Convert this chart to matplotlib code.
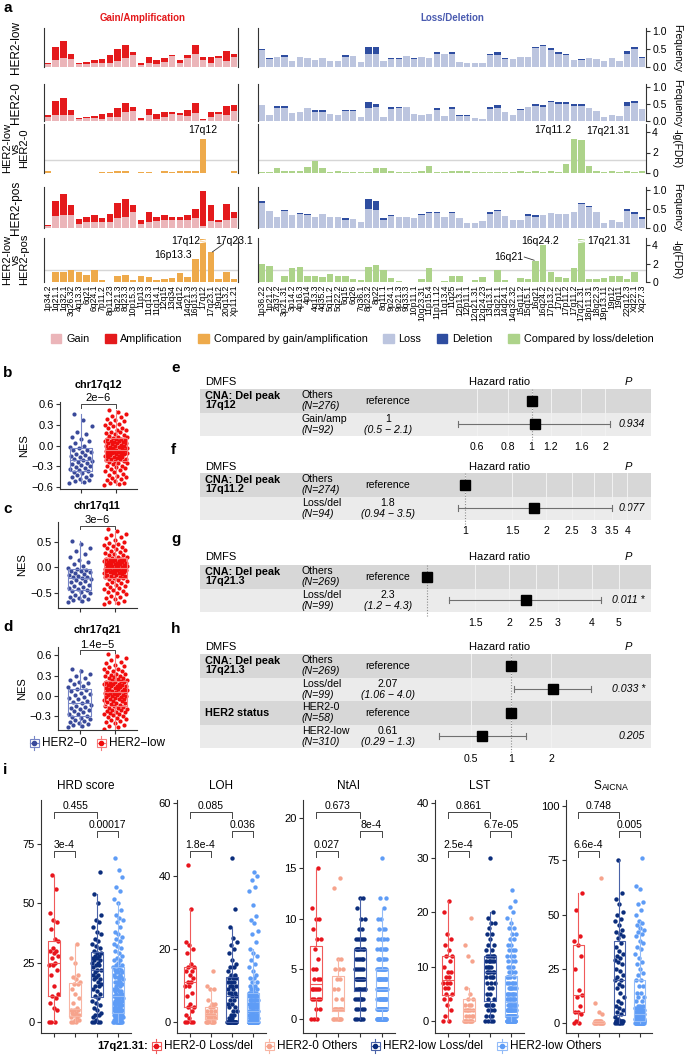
import numpy as np
import matplotlib
matplotlib.use('Agg')
import matplotlib.pyplot as plt
import matplotlib.transforms as mtransforms
from matplotlib.patches import Patch, Rectangle
from matplotlib.lines import Line2D

plt.rcParams['font.family'] = ['Liberation Sans', 'DejaVu Sans']
plt.rcParams['axes.unicode_minus'] = True

W, H = 685, 1059
fig = plt.figure(figsize=(W / 100, H / 100), dpi=100)


def box(x0, y0, x1, y1):
    return [x0 / W, 1 - y1 / H, (x1 - x0) / W, (y1 - y0) / H]


def ftext(x, y, s, **kw):
    return fig.text(x / W, 1 - y / H, s, **kw)


def vals(s):
    out = []
    for tok in s.split():
        if '*' in tok:
            v, n = tok.split('*')
            out += [float(v)] * int(n)
        else:
            out.append(float(tok))
    return np.array(out)


# ---------------- data: panel a ----------------
gain_labels = ['1p34.2', '1q21.1', '1q32.1', '3q26.32', '4q13.3', '6q21', '6q24.1', '7p11.2',
               '8p11.23', '8q21.3', '8q23.3', '10p15.3', '11p13', '11q13.3', '11q14.1', '12q15',
               '13q34', '14q12', '14q21.3', '16p13.3', '17q12', '17q23.1', '19q12', '20q13.2', 'Xp11.21']
loss_labels = ['1p36.22', '1p21.2', '2q37.2', '3p21.31', '3p14.2', '4p16.3', '4p14', '4q13.3', '4q35.2',
               '5q11.2', '5q22.2', '6q15', '6q26', '7q36.1', '8p23.2', '8p22', '8q11.1', '9p24.1',
               '9p21.3', '9q33.3', '10p11.1', '10q23.31', '11p15.4', '11p11.12', '11q13.4', '11q25',
               '12p13.1', '12p11.1', '12q21.31', '12q24.23', '13q13.1', '13q21.1', '14q24.1', '14q32.32',
               '15q11.2', '15q15.1', '16q21', '16q24.2', '17p13.2', '17p12', '17p11.2', '17q11.2',
               '17q21.31', '18p11.31', '18q22.3', '19p13.11', '19p12', '19q11', '22q12.3', 'Xq22.1', 'Xq27.3']

low_gain = [0.09, 0.19, 0.24, 0.22, 0.08, 0.08, 0.12, 0.12, 0.12, 0.16, 0.25, 0.33, 0.05, 0.12, 0.08,
            0.15, 0.30, 0.12, 0.25, 0.35, 0.19, 0.12, 0.25, 0.17, 0.27]
low_amp = [0.03, 0.37, 0.49, 0.14, 0.03, 0.07, 0.07, 0.11, 0.20, 0.34, 0.35, 0.09, 0.06, 0.17, 0.12,
           0.09, 0.03, 0.07, 0.08, 0.27, 0.09, 0.17, 0.05, 0.28, 0.08]
zero_gain = [0.13, 0.18, 0.18, 0.18, 0.05, 0.08, 0.09, 0.06, 0.13, 0.13, 0.27, 0.28, 0.02, 0.17, 0.07,
             0.12, 0.21, 0.18, 0.15, 0.25, 0.02, 0.12, 0.22, 0.19, 0.28]
zero_amp = [0.06, 0.40, 0.50, 0.15, 0.03, 0.04, 0.05, 0.15, 0.12, 0.25, 0.27, 0.12, 0.07, 0.19, 0.14,
            0.15, 0.05, 0.05, 0.16, 0.27, 0.03, 0.15, 0.05, 0.25, 0.18]
pos_gain = [0.05, 0.32, 0.33, 0.33, 0.10, 0.15, 0.15, 0.16, 0.17, 0.27, 0.30, 0.42, 0.10, 0.15, 0.18,
            0.22, 0.22, 0.20, 0.20, 0.27, 0.04, 0.18, 0.17, 0.22, 0.27]
pos_amp = [0.04, 0.40, 0.57, 0.27, 0.15, 0.15, 0.18, 0.09, 0.21, 0.38, 0.46, 0.18, 0.10, 0.28, 0.12,
           0.11, 0.08, 0.10, 0.13, 0.23, 0.93, 0.42, 0.05, 0.40, 0.15]

low_loss = [0.48, 0.23, 0.28, 0.29, 0.17, 0.29, 0.24, 0.20, 0.24, 0.17, 0.17, 0.29, 0.30, 0.14, 0.35,
            0.35, 0.18, 0.22, 0.22, 0.30, 0.22, 0.28, 0.25, 0.37, 0.36, 0.36, 0.13, 0.12, 0.12, 0.12,
            0.33, 0.34, 0.22, 0.22, 0.28, 0.29, 0.54, 0.58, 0.47, 0.37, 0.34, 0.20, 0.20, 0.24, 0.21,
            0.18, 0.24, 0.18, 0.36, 0.51, 0.26]
low_del = [0.02, 0.02, 0.00, 0.04, 0.00, 0.00, 0.00, 0.00, 0.00, 0.00, 0.00, 0.04, 0.00, 0.00, 0.20,
           0.20, 0.00, 0.02, 0.02, 0.00, 0.03, 0.00, 0.00, 0.05, 0.00, 0.06, 0.02, 0.00, 0.00, 0.00,
           0.03, 0.08, 0.02, 0.00, 0.00, 0.00, 0.02, 0.02, 0.05, 0.05, 0.02, 0.00, 0.02, 0.00, 0.00,
           0.00, 0.00, 0.00, 0.09, 0.04, 0.02]
zero_loss = [0.47, 0.18, 0.38, 0.37, 0.24, 0.26, 0.38, 0.27, 0.26, 0.20, 0.17, 0.28, 0.28, 0.13, 0.37,
             0.40, 0.12, 0.36, 0.38, 0.40, 0.20, 0.19, 0.20, 0.31, 0.15, 0.34, 0.14, 0.15, 0.08, 0.05,
             0.35, 0.38, 0.26, 0.17, 0.31, 0.40, 0.44, 0.42, 0.55, 0.50, 0.49, 0.44, 0.45, 0.38, 0.28,
             0.13, 0.17, 0.15, 0.45, 0.54, 0.35]
zero_del = [0.00, 0.00, 0.05, 0.06, 0.00, 0.00, 0.00, 0.04, 0.06, 0.00, 0.00, 0.03, 0.03, 0.00, 0.18,
            0.10, 0.00, 0.04, 0.02, 0.00, 0.00, 0.00, 0.00, 0.06, 0.00, 0.08, 0.03, 0.02, 0.00, 0.00,
            0.07, 0.10, 0.00, 0.00, 0.03, 0.00, 0.06, 0.06, 0.05, 0.07, 0.06, 0.06, 0.05, 0.00, 0.00,
            0.00, 0.00, 0.00, 0.12, 0.06, 0.00]
pos_loss = [0.67, 0.45, 0.30, 0.44, 0.33, 0.36, 0.33, 0.30, 0.36, 0.28, 0.28, 0.21, 0.24, 0.17, 0.50,
            0.48, 0.22, 0.31, 0.30, 0.29, 0.26, 0.33, 0.40, 0.39, 0.30, 0.40, 0.27, 0.14, 0.14, 0.18,
            0.38, 0.46, 0.31, 0.20, 0.20, 0.31, 0.29, 0.33, 0.40, 0.38, 0.36, 0.42, 0.62, 0.56, 0.42,
            0.13, 0.20, 0.17, 0.45, 0.38, 0.25]
pos_del = [0.05, 0.00, 0.00, 0.03, 0.00, 0.04, 0.03, 0.00, 0.00, 0.00, 0.00, 0.04, 0.00, 0.00, 0.25,
           0.22, 0.05, 0.03, 0.00, 0.00, 0.00, 0.04, 0.02, 0.04, 0.00, 0.02, 0.00, 0.00, 0.00, 0.00,
           0.04, 0.02, 0.00, 0.00, 0.00, 0.05, 0.04, 0.00, 0.00, 0.00, 0.00, 0.00, 0.05, 0.02, 0.00,
           0.00, 0.00, 0.00, 0.04, 0.04, 0.03]

fdr_lz_gain = [0.15, 0.02, 0.02, 0.02, 0.02, 0.02, 0.02, 0.10, 0.10, 0.15, 0.15, 0.02, 0.10, 0.10, 0.02,
               0.15, 0.12, 0.15, 0.18, 0.18, 3.30, 0.02, 0.02, 0.02, 0.20]
fdr_lz_loss = [0.05, 0.10, 0.45, 0.15, 0.15, 0.20, 0.55, 1.20, 0.50, 0.05, 0.15, 0.05, 0.05, 0.05, 0.05,
               0.50, 0.50, 0.20, 0.05, 0.10, 0.05, 0.20, 0.70, 0.05, 0.05, 0.15, 0.15, 0.15, 0.05, 0.05,
               0.05, 0.05, 0.05, 0.05, 0.20, 0.05, 0.20, 0.10, 0.15, 0.10, 0.90, 3.30, 3.20, 0.70, 0.20,
               0.05, 0.15, 0.05, 0.15, 0.05, 0.15]
fdr_lp_gain = [0.02, 1.10, 1.10, 1.35, 1.10, 0.80, 1.35, 0.25, 0.02, 0.70, 0.75, 0.20, 0.70, 0.55, 0.25,
               0.35, 0.45, 1.00, 0.55, 2.50, 4.60, 3.20, 0.35, 1.05, 0.35]
fdr_lp_loss = [2.00, 1.70, 0.02, 0.70, 1.50, 1.60, 0.70, 0.70, 0.55, 0.85, 0.70, 0.70, 0.35, 0.20, 1.60,
               1.80, 1.35, 0.45, 0.10, 0.02, 0.02, 0.35, 1.55, 0.02, 0.10, 0.70, 0.70, 0.02, 0.20, 0.50,
               0.02, 1.35, 0.25, 0.02, 0.45, 0.35, 2.30, 4.00, 1.10, 0.50, 0.40, 1.50, 4.60, 0.35, 0.35,
               0.40, 0.70, 0.60, 0.35, 1.10, 0.05]

C_GAIN, C_AMP, C_CMPG = '#EBB5B9', '#E41A1C', '#EEAA4B'
C_LOSS, C_DEL, C_CMPL = '#BCC5DF', '#2E4DA0', '#ADD38A'
SP = '#333333'

ftext(3, 8, 'a', fontsize=11, fontweight='bold', va='center')
ftext(143, 18, 'Gain/Amplification', color=C_AMP, fontsize=7, fontweight='bold', ha='center', va='center')
ftext(452, 18, 'Loss/Deletion', color='#4A5BB0', fontsize=7, fontweight='bold', ha='center', va='center')

row_specs = [('HER2-low', 'freq', 31, 67), ('HER2-0', 'freq', 87, 121),
             ('HER2-low\nvs\nHER2-0', 'fdr', 132, 173), ('HER2-pos', 'freq', 190, 228),
             ('HER2-low\nvs\nHER2-pos', 'fdr', 245, 282)]
freq_sets = {0: (low_gain, low_amp, low_loss, low_del), 1: (zero_gain, zero_amp, zero_loss, zero_del),
             3: (pos_gain, pos_amp, pos_loss, pos_del)}
fdr_sets = {2: (fdr_lz_gain, fdr_lz_loss), 4: (fdr_lp_gain, fdr_lp_loss)}

xg = np.arange(len(gain_labels))
xl = np.arange(len(loss_labels))
bw = 0.84
ax_rows = []
for r, (lab, kind, ytick, yzero) in enumerate(row_specs):
    unit, ymax = (1.0, 1.08) if kind == 'freq' else (4.0, 4.8)
    top = yzero - (yzero - ytick) * ymax / unit
    axg = fig.add_axes(box(44, top, 238, yzero))
    axl = fig.add_axes(box(258, top, 646, yzero))
    for ax, n in ((axg, len(gain_labels)), (axl, len(loss_labels))):
        ax.set_xlim(-0.5, n - 0.5)
        ax.set_ylim(0, ymax)
        for s in ax.spines.values():
            s.set_color(SP)
            s.set_linewidth(0.8)
        ax.spines['top'].set_visible(False)
        ax.spines['bottom'].set_visible(False)
        ax.set_xticks([])
    axg.set_yticks([])
    axl.yaxis.tick_right()
    if kind == 'freq':
        g, a, lo, de = freq_sets[r]
        axg.bar(xg, g, bw, color=C_GAIN, lw=0)
        axg.bar(xg, a, bw, bottom=g, color=C_AMP, lw=0)
        axl.bar(xl, lo, bw, color=C_LOSS, lw=0)
        axl.bar(xl, de, bw, bottom=lo, color=C_DEL, lw=0)
        axl.set_yticks([0, 0.5, 1.0], ['0.0', '0.5', '1.0'])
        rlab = 'Frequency'
    else:
        fg, fl = fdr_sets[r]
        for ax, xs, v, c in ((axg, xg, fg, C_CMPG), (axl, xl, fl, C_CMPL)):
            ax.axhline(1.3, color='#D6D6D6', lw=1, zorder=0)
            ax.bar(xs, v, bw, color=c, lw=0)
            for xi, vi in zip(xs, v):
                if vi > 4.4:
                    for yb in (4.25, 4.42):
                        ax.plot([xi - 0.45, xi + 0.45], [yb, yb + 0.12], color='white', lw=0.9)
        axl.set_yticks([0, 2, 4], ['0', '2', '4'])
        rlab = '-lg(FDR)'
    axl.spines['right'].set_visible(True)
    axl.tick_params(axis='y', length=3, width=0.8, color=SP, labelsize=7.5, pad=1.5)
    ym = (top + yzero) / 2
    if '\n' in lab:
        ftext(16, ym, lab, rotation=90, ha='center', va='center', fontsize=8, linespacing=0.8,
              multialignment='center')
    else:
        ftext(16, ym, lab, rotation=90, ha='center', va='center', fontsize=8.5)
    ftext(677, ym, rlab, rotation=270, ha='center', va='center', fontsize=7.3)
    ax_rows.append((axg, axl))

# x labels under the last row
axg5, axl5 = ax_rows[4]
axg5.set_xticks(xg, gain_labels, rotation=90, fontsize=6.2)
axl5.set_xticks(xl, loss_labels, rotation=90, fontsize=6.2)
for ax in (axg5, axl5):
    ax.tick_params(axis='x', length=0, pad=2)

# peak annotations
axg3, axl3 = ax_rows[2]
axg3.text(20, fdr_lz_gain[20] + 0.4, '17q12', ha='center', va='bottom', fontsize=7.5)
axl3.text(40.7, fdr_lz_loss[41] + 0.4, '17q11.2', ha='right', va='bottom', fontsize=7.5)
axl3.text(42.6, fdr_lz_loss[42] + 0.4, '17q21.31', ha='left', va='bottom', fontsize=7.5)
axg5.text(19.6, 4.45, '17q12', ha='right', va='center', fontsize=7.5)
axg5.text(21.6, 4.45, '17q23.1', ha='left', va='center', fontsize=7.5)
axg5.plot([22.6, 21.2], [4.1, fdr_lp_gain[21] + 0.05], color='#333', lw=0.6)
axg5.text(18.5, 2.9, '16p13.3', ha='right', va='center', fontsize=7.5)
axl5.text(36.6, 4.45, '16q24.2', ha='center', va='center', fontsize=7.5)
axl5.text(34.4, 2.75, '16q21', ha='right', va='center', fontsize=7.5)
axl5.plot([34.5, 35.8], [2.7, fdr_lp_loss[36] + 0.05], color='#333', lw=0.6)
axl5.text(42.8, 4.45, '17q21.31', ha='left', va='center', fontsize=7.5)

leg_labels = ['Gain', 'Amplification', 'Compared by gain/amplification', 'Loss', 'Deletion',
              'Compared by loss/deletion']
leg_cols = [C_GAIN, C_AMP, C_CMPG, C_LOSS, C_DEL, C_CMPL]
fig.legend([Patch(color=c) for c in leg_cols], leg_labels, loc='center',
           bbox_to_anchor=(352 / W, 1 - 339 / H), ncol=6, frameon=False, fontsize=7.8,
           handlelength=1.0, handleheight=1.0, handletextpad=0.45, columnspacing=1.4, borderaxespad=0)

# ---------------- data: panels b-d ----------------
b_zero = vals('-0.55 -0.53 -0.52 -0.5 -0.48 -0.46 -0.45 -0.43 -0.42 -0.4 -0.39 '
              '-0.37 -0.36 -0.34 -0.33 -0.31 -0.3 -0.28 -0.27 -0.25 -0.24 -0.23 '
              '-0.21 -0.2 -0.18 -0.17 -0.15 -0.14 -0.12 -0.1 -0.09 -0.07 -0.06 '
              '-0.04 -0.02 0.0 0.03 0.06 0.09 0.12 0.16 0.2 0.28 0.37 0.45')
b_low = vals('-0.57 -0.56 -0.55 -0.54 -0.52 -0.5 -0.49 -0.47 -0.46 -0.44 -0.42 -0.41 -0.39 -0.37 -0.36 '
             '-0.34 -0.33 -0.31 -0.3 -0.29 -0.27 -0.26 -0.25 -0.24 -0.23 '
             '-0.22 -0.21 -0.2 -0.2 -0.19 -0.18 -0.17 -0.17 -0.16 -0.15 -0.15 -0.14 -0.13 -0.13 -0.12 '
             '-0.12 -0.11 -0.11 -0.1 -0.1 -0.09 -0.09 -0.08 -0.08 -0.07 '
             '-0.06 -0.06 -0.05 -0.04 -0.04 -0.03 -0.02 -0.02 -0.01 0.0 0.0 0.01 0.02 0.03 0.03 '
             '0.04 0.05 0.05 0.06 0.07 0.07 0.08 0.09 0.09 0.1 '
             '0.11 0.12 0.13 0.14 0.15 0.17 0.18 0.19 0.2 0.22 0.23 0.25 0.26 0.28 0.3 '
             '0.31 0.33 0.35 0.37 0.39 0.41 0.43 0.45 0.48 0.52')
c_zero = vals('-0.68 -0.66 -0.63 -0.61 -0.59 -0.57 -0.55 -0.53 -0.5 -0.48 -0.46 '
              '-0.44 -0.42 -0.4 -0.38 -0.36 -0.34 -0.31 -0.29 -0.27 -0.25 -0.23 '
              '-0.21 -0.19 -0.18 -0.16 -0.14 -0.13 -0.11 -0.1 -0.08 -0.07 -0.06 '
              '-0.04 -0.01 0.02 0.06 0.1 0.14 0.2 0.25 0.32 0.38 0.45 0.52')
c_low = vals('-0.72 -0.7 -0.67 -0.65 -0.62 -0.6 -0.57 -0.55 -0.52 -0.5 -0.48 -0.46 -0.44 -0.42 -0.4 '
             '-0.38 -0.36 -0.34 -0.32 -0.3 -0.28 -0.26 -0.24 -0.22 -0.21 '
             '-0.2 -0.19 -0.18 -0.17 -0.16 -0.15 -0.14 -0.13 -0.12 -0.12 -0.11 -0.1 -0.09 -0.09 -0.08 '
             '-0.07 -0.07 -0.06 -0.05 -0.05 -0.04 -0.04 -0.03 -0.03 -0.02 '
             '-0.01 0.0 0.0 0.01 0.02 0.03 0.03 0.04 0.05 0.06 0.06 0.07 0.08 0.09 0.09 '
             '0.1 0.11 0.12 0.12 0.13 0.14 0.15 0.15 0.16 0.17 '
             '0.18 0.2 0.21 0.23 0.24 0.26 0.28 0.3 0.32 0.34 0.36 0.38 0.4 0.42 0.44 '
             '0.46 0.48 0.5 0.53 0.56 0.59 0.62 0.65 0.7 0.75')
d_zero = vals('-0.45 -0.44 -0.42 -0.41 -0.4 -0.38 -0.37 -0.35 -0.34 -0.33 -0.31 '
              '-0.29 -0.27 -0.26 -0.24 -0.22 -0.21 -0.19 -0.17 -0.16 -0.14 -0.13 '
              '-0.11 -0.09 -0.07 -0.05 -0.03 -0.01 0.01 0.03 0.05 0.07 0.09 '
              '0.11 0.13 0.15 0.17 0.19 0.21 0.24 0.27 0.3 0.33 0.36 0.4')
d_low = vals('-0.48 -0.46 -0.44 -0.42 -0.4 -0.38 -0.37 -0.35 -0.34 -0.32 -0.31 -0.3 -0.28 -0.27 -0.26 '
             '-0.25 -0.24 -0.23 -0.22 -0.21 -0.2 -0.19 -0.18 -0.17 -0.16 '
             '-0.15 -0.14 -0.13 -0.12 -0.11 -0.1 -0.09 -0.08 -0.07 -0.06 -0.05 -0.04 -0.04 -0.03 -0.02 '
             '-0.01 0.0 0.0 0.01 0.02 0.02 0.03 0.04 0.04 0.05 '
             '0.06 0.06 0.07 0.08 0.08 0.09 0.1 0.1 0.11 0.12 0.12 0.13 0.14 0.14 0.15 '
             '0.16 0.16 0.17 0.18 0.18 0.19 0.2 0.2 0.21 0.22 '
             '0.23 0.24 0.25 0.26 0.27 0.28 0.29 0.3 0.31 0.32 0.33 0.35 0.36 0.37 0.39 '
             '0.4 0.42 0.44 0.46 0.48 0.5 0.53 0.56 0.59 0.62')

nes_titles = ['chr17q12', 'chr17q11', 'chr17q21']
nes_p = ['2e\u22126', '3e\u22126', '1.4e\u22125']
nes_ticks = [[-0.6, -0.3, 0.0, 0.3, 0.6], [-0.5, 0.0, 0.5], [-0.3, 0.0, 0.3, 0.6]]
C_H0, E_H0 = '#3A4A9A', '#7785C6'
C_HL, E_HL = '#F00D0D', '#F57C7C'


def jit(n, w):
    return ((np.arange(n) * 0.6180339887) % 1 - 0.5) * 2 * w


def draw_groups(ax, groups, cols, edges, width, jw, s):
    for i, (v, c, e) in enumerate(zip(groups, cols, edges)):
        pos = i + 1
        ax.scatter(pos + jit(len(v), jw), v, s=s, color=c, lw=0, zorder=2)
        bp = ax.boxplot(v, positions=[pos], widths=width, showfliers=False, showcaps=False,
                        manage_ticks=False)
        for k in ('boxes', 'medians', 'whiskers'):
            for art in bp[k]:
                art.set_color(e)
                art.set_linewidth(0.8)
                art.set_zorder(3)


def bracket(ax, x1, x2, y, h, txt, trans, fs=7.5):
    ax.plot([x1, x1, x2, x2], [y - h, y, y, y - h], color='#444', lw=0.7, transform=trans, clip_on=False)
    ax.text((x1 + x2) / 2, y + h * 0.25, txt, ha='center', va='bottom', fontsize=fs, transform=trans)


def style_ax(ax, fs=7.5):
    for s in ('top', 'right'):
        ax.spines[s].set_visible(False)
    for s in ('left', 'bottom'):
        ax.spines[s].set_color(SP)
        ax.spines[s].set_linewidth(0.8)
    ax.tick_params(length=3, width=0.8, color=SP, labelsize=fs, pad=1.5)


nes_sets = [(b_zero, b_low), (c_zero, c_low), (d_zero, d_low)]
nes_box = [(60, 402, 137, 489), (58, 522, 137, 608), (58, 647, 137, 730)]
nes_ylim = [(-0.63, 0.63), (-0.79, 0.88), (-0.5, 0.72)]
nes_brk = [0.6, 0.81, 0.67]
nes_title_y = [385, 506, 630]
nes_letter_y = [373, 509, 627]
for k, letter in enumerate('bcd'):
    ax = fig.add_axes(box(*nes_box[k]))
    draw_groups(ax, nes_sets[k], [C_H0, C_HL], [E_H0, E_HL], 0.65, 0.33, 9)
    ax.set_xlim(0.4, 2.6)
    ax.set_ylim(*nes_ylim[k])
    ax.set_xticks([1, 2], ['', ''])
    ax.set_yticks(nes_ticks[k], [f'{t:.1f}'.replace('-', '\u2212') for t in nes_ticks[k]])
    style_ax(ax, 8)
    ax.set_ylabel('NES', fontsize=8, labelpad=2)
    h = (nes_ylim[k][1] - nes_ylim[k][0]) * 0.04
    bracket(ax, 1, 2, nes_brk[k], h, nes_p[k], ax.transData, fs=8)
    xc = (nes_box[k][0] + nes_box[k][2]) / 2
    ftext(xc, nes_title_y[k], nes_titles[k], ha='center', va='center', fontsize=7.8, fontweight='bold')
    ftext(3, nes_letter_y[k], letter, fontsize=11, fontweight='bold', va='center')


def legend_key(xc, yc, color, edge):
    tf = fig.transFigure
    fig.add_artist(Rectangle(((xc - 4.5) / W, 1 - (yc + 4) / H), 9 / W, 8 / H, transform=tf,
                             fill=False, ec=edge, lw=0.8))
    fig.add_artist(Line2D([(xc - 4.5) / W, (xc + 4.5) / W], [1 - yc / H] * 2, color=edge, lw=0.8, transform=tf))
    fig.add_artist(Line2D([xc / W] * 2, [1 - (yc - 7) / H, 1 - (yc - 4) / H], color=edge, lw=0.8, transform=tf))
    fig.add_artist(Line2D([xc / W] * 2, [1 - (yc + 4) / H, 1 - (yc + 7) / H], color=edge, lw=0.8, transform=tf))
    fig.add_artist(Line2D([xc / W], [1 - yc / H], marker='o', ms=3, color=color, lw=0, transform=tf))


legend_key(34, 743, C_H0, E_H0)
ftext(42, 743, 'HER2\u22120', fontsize=8.5, va='center')
legend_key(101, 743, C_HL, E_HL)
ftext(109, 743, 'HER2\u2212low', fontsize=8.5, va='center')

# ---------------- data: panels e-h (forest plots) ----------------
e_group = ['Others', 'Gain/amp']
e_n = ['(N=276)', '(N=92)']
e_hr = [1.0, 1.03]
e_lo = [np.nan, 0.5]
e_hi = [np.nan, 2.1]
e_hr_txt = ['reference', '1']
e_ci_txt = ['', '(0.5 \u2212 2.1)']
e_p = ['', '0.934']
e_ticks = [0.6, 0.8, 1, 1.2, 1.6, 2]

f_group = ['Others', 'Loss/del']
f_n = ['(N=274)', '(N=94)']
f_hr = [1.0, 1.8]
f_lo = [np.nan, 0.94]
f_hi = [np.nan, 3.5]
f_hr_txt = ['reference', '1.8']
f_ci_txt = ['', '(0.94 \u2212 3.5)']
f_p = ['', '0.077']
f_ticks = [1, 1.5, 2, 2.5, 3, 3.5, 4]

g_group = ['Others', 'Loss/del']
g_n = ['(N=269)', '(N=99)']
g_hr = [1.0, 2.3]
g_lo = [np.nan, 1.2]
g_hi = [np.nan, 4.3]
g_hr_txt = ['reference', '2.3']
g_ci_txt = ['', '(1.2 \u2212 4.3)']
g_p = ['', '0.011 *']
g_ticks = [1.5, 2, 2.5, 3, 4, 5]

h_group = ['Others', 'Loss/del', 'HER2-0', 'HER2-low']
h_n = ['(N=269)', '(N=99)', '(N=58)', '(N=310)']
h_hr = [1.0, 2.07, 1.0, 0.61]
h_lo = [np.nan, 1.06, np.nan, 0.29]
h_hi = [np.nan, 4.0, np.nan, 1.3]
h_hr_txt = ['reference', '2.07', 'reference', '0.61']
h_ci_txt = ['', '(1.06 \u2212 4.0)', '', '(0.29 \u2212 1.3)']
h_p = ['', '0.033 *', '', '0.205']
h_ticks = [0.5, 1, 2]

forests = [
    ('e', 368, 382, 389, {0: 'CNA: Del peak\n17q12'}, e_group, e_n, e_hr, e_lo, e_hi, e_hr_txt, e_ci_txt, e_p,
     e_ticks, 531.5, 106, 440, 630),
    ('f', 450, 467, 473, {0: 'CNA: Del peak\n17q11.2'}, f_group, f_n, f_hr, f_lo, f_hi, f_hr_txt, f_ci_txt, f_p,
     f_ticks, 465, 117, 440, 635),
    ('g', 539, 557, 565, {0: 'CNA: Del peak\n17q21.3'}, g_group, g_n, g_hr, g_lo, g_hi, g_hr_txt, g_ci_txt, g_p,
     g_ticks, 427, 119, 415, 630),
    ('h', 629, 647, 654, {0: 'CNA: Del peak\n17q21.3', 2: 'HER2 status'}, h_group, h_n, h_hr, h_lo, h_hi,
     h_hr_txt, h_ci_txt, h_p, h_ticks, 511, 58, 420, 610),
]
ROW_H = 23.5
TX0 = 200
FS = 7.6
for (letter, ly, hy, btop, var, grp, nn, hr, lo, hi, hrt, cit, pv, ticks,
     one_px, ppl, fx0, fx1) in forests:
    nrow = len(grp)
    bbot = btop + nrow * ROW_H
    ftext(171, ly, letter, fontsize=11, fontweight='bold', va='center')
    tab = fig.add_axes(box(TX0, btop, 651, bbot))
    tab.set_xlim(TX0, 651)
    tab.set_ylim(bbot, btop)
    tab.axis('off')
    for i in range(nrow):
        y0 = btop + i * ROW_H
        tab.add_patch(Rectangle((TX0, y0), 651 - TX0, ROW_H, color='#D7D7D7' if i % 2 == 0 else '#EBEBEB', lw=0))
        yc = y0 + ROW_H / 2
        tab.text(302, yc - 5.5, grp[i], fontsize=FS, va='center')
        tab.text(302, yc + 5.5, nn[i], fontsize=FS, va='center', style='italic')
        if cit[i]:
            tab.text(388, yc - 5.5, hrt[i], fontsize=FS, va='center', ha='center')
            tab.text(388, yc + 5.5, cit[i], fontsize=FS, va='center', ha='center', style='italic')
        else:
            tab.text(388, yc, hrt[i], fontsize=FS, va='center', ha='center')
        if pv[i]:
            tab.text(645, yc, pv[i], fontsize=FS, va='center', ha='right', style='italic')
        if i in var:
            tab.text(205, yc, var[i], fontsize=7.8, va='center', fontweight='bold', linespacing=0.9)
    tab.text(205, hy, 'DMFS', fontsize=8, va='center', clip_on=False)
    tab.text(500, hy, 'Hazard ratio', fontsize=8, va='center', ha='center', clip_on=False)
    tab.text(628, hy, 'P', fontsize=8, va='center', ha='center', style='italic', clip_on=False)

    fa = fig.add_axes(box(fx0, btop, fx1, bbot))
    fa.set_xscale('log')
    fa.set_xlim(np.exp((fx0 - one_px) / ppl), np.exp((fx1 - one_px) / ppl))
    fa.set_ylim(bbot, btop)
    fa.patch.set_visible(False)
    for s in fa.spines.values():
        s.set_visible(False)
    fa.set_yticks([])
    fa.minorticks_off()
    fa.set_xticks(ticks, [f'{t:g}' for t in ticks])
    fa.tick_params(axis='x', length=0, labelsize=FS, pad=4)
    for t in ticks:
        fa.plot([t, t], [btop, bbot], color='#F2F2F2', lw=0.7, zorder=1)
    fa.plot([1, 1], [btop, bbot + 4], color='#8C8C8C', lw=0.8, ls=(0, (1, 1.5)), zorder=2, clip_on=False)
    for i in range(nrow):
        yc = btop + (i + 0.5) * ROW_H
        if np.isfinite(lo[i]):
            fa.plot([lo[i], hi[i]], [yc, yc], color='#707070', lw=0.8, zorder=3)
            for xe in (lo[i], hi[i]):
                fa.plot([xe, xe], [yc - 3, yc + 3], color='#707070', lw=0.8, zorder=3)
        fa.plot([hr[i]], [yc], 's', color='black', ms=6.5, zorder=4, clip_on=False)

# ---------------- data: panel i ----------------
i_titles = ['HRD score', 'LOH', 'NtAI', 'LST', None]
hrd = [vals('0 0 0 5 6 8 10 11 12 15 20 22 24 24 25 27 28 29 30 30 31 34 35 39 42 43 46 56 62'),
       vals('0 0 0 1 1 2 2 3 3 4 4 5 5 5 6 8 10 12 14 16 16 17 18 19 20 25 27 33'),
       vals('0*4 1 2 3 3 4 5 6 7 8 9 10 11 12 13 14 15 15 16 17 18 18 19 20 20 21 22 '
            '22 23 24 24 25 25 26 26 27 27 28 28 29 29 30 31 32 33 34 35 37 38 40 42 43 45 50 54 63'),
       vals('0*10 1*6 2*6 3*8 4*4 5*4 6*4 7*4 8*4 9*4 10*4 11*2 '
            '11 12*3 13*3 14*2 15*2 16*2 17*3 18*2 19*3 20*2 21*3 22*3 23 '
            '23 24 24 25 26 26 27 28 29 30 31 32 33 34 35 36 37 38 40 42 43 44 45 47 50 52 55 57 61 64 69')]
loh = [vals('0 0 0 0 1 2 3 4 4 5 7 8 10 10 11 11 12 13 14 14 15 15 16 19 20 21 22 31 43'),
       vals('0*7 1*4 2*5 3*3 4*2 5 5 6 9 9 10 14'),
       vals('0*17 1 1 2 2 3 3 4 4 5 5 6 6 7 7 8 8 8 9 9 10 10 10 11 11 11 12 12 12 '
            '13 13 14 15 15 16 17 19 20 21 22 23 26 31 45'),
       vals('0*38 1*8 2*8 3*9 4*5 5*5 6*6 7*6 8*6 9*3 10*2 11*2 12*2 13 14 15 16 17 18 19 20 '
            '22 24 25 27 28 29 32 36 37 39 40 41')]
ntai = [vals('0 0 0 1 1 2 2 2 2 3 3 3 3 3 4 4 4 5 5 6 7 8 8 9 10 10 11 15'),
        vals('0*7 1*8 2 2 3 3 4 4 5 5 5 6 6 13 14'),
        vals('0*5 1*4 2*6 3*7 4*9 5*5 6*5 7*7 8*5 9 9 10 10 11 12 12'),
        vals('0*20 1*20 2*12 3*18 4*12 5*12 6*6 7*6 8*5 9*3 10*2 11 12 12 16')]
lst = [vals('0 0 1 2 3 4 4 5 5 6 6 7 7 7 8 8 9 9 10 11 12 12 13 14 15 16 20 22'),
       vals('0*8 1*4 2*5 3*3 4*2 5 6 11 12 14 19'),
       vals('0*4 1*3 2*3 3*5 4 4 5 5 6 6 7 7 7 8 8 8 8 9 9 9 9 9 10*4 11*5 12*5 '
            '13 13 14 14 15 16 16 17 18 18 19 20 30'),
       vals('0*18 1*18 2*12 3*12 4*8 5*7 6*6 7*5 8*4 9*4 10*3 11*3 12*3 13*3 14*2 15*2 16*2 17*2 '
            '18 19 20 21 22 24')]
saicna = [vals('0 0 1 4 5 5 8 12 13 15 25 31 36 38 40 52 60'),
          vals('0*9 1*7 4 5 9 67'),
          vals('0*5 1*7 2 3 4 5 6 7 8 9 10 12 14 16 17 18 20 20 21 22 24 25 27 28 29 30 31 32 33 35 37 39 '
               '40 41 42 43 45 47 48 50 51 55 57 60 75'),
          vals('0*20 1*14 2*10 3*8 4*6 5*5 6*4 7*3 8*3 10*2 12*2 14*2 17*2 20*2 '
               '22 23 25 27 28 30 32 34 35 37 38 40 41 42 43 44 45 46 47 50 52 55 56 62 63 76')]
i_sets = [hrd, loh, ntai, lst, saicna]
i_pvals = [['0.455', '0.00017', '3e-4'], ['0.085', '0.036', '1.8e-4'], ['0.673', '8e-4', '0.027'],
           ['0.861', '6.7e-05', '2.5e-4'], ['0.748', '0.005', '6.6e-4']]
i_ticks = [[0, 25, 50, 75], [0, 20, 40, 60], [0, 5, 10, 15, 20], [0, 10, 20, 30, 40], [0, 25, 50, 75, 100]]
i_ylims = [(-4.6, 93.5), (-3.0, 60.8), (-1.4, 21.8), (-2.2, 40.6), (-4.6, 102.8)]
i_xspan = [(41, 131), (177, 266), (303, 395), (435, 524), (566, 652)]
i_groups = ['HER2-0 Loss/del', 'HER2-0 Others', 'HER2-low Loss/del', 'HER2-low Others']
i_cols = ['#E8141C', '#F6A38C', '#0B2D7C', '#5E9CF6']
i_edges = ['#F05A5A', '#F8B6A4', '#4A63A8', '#93BCF8']

ftext(3, 770, 'i', fontsize=11, fontweight='bold', va='center')
for k in range(5):
    x0, x1 = i_xspan[k]
    ax = fig.add_axes(box(x0, 800, x1, 1033))
    draw_groups(ax, i_sets[k], i_cols, i_edges, 0.55, 0.22, 10)
    ax.set_xlim(0.4, 4.6)
    ax.set_ylim(*i_ylims[k])
    ax.set_xticks([1, 2, 3, 4], ['', '', '', ''])
    ax.set_yticks(i_ticks[k], [str(t) for t in i_ticks[k]])
    style_ax(ax, 8)
    tr = mtransforms.blended_transform_factory(ax.transData, ax.transAxes)
    bracket(ax, 1, 3, 0.948, 0.025, i_pvals[k][0], tr)
    bracket(ax, 3, 4, 0.867, 0.025, i_pvals[k][1], tr)
    bracket(ax, 1, 2, 0.781, 0.025, i_pvals[k][2], tr)
    xc = (x0 + x1) / 2
    if i_titles[k]:
        ftext(xc, 786, i_titles[k], ha='center', va='center', fontsize=8.5)
    else:
        ftext(xc - 16, 786, 'S', ha='left', va='center', fontsize=8.5)
        ftext(xc - 7, 787, 'AICNA', ha='left', va='center', fontsize=6.3)

ftext(148, 1046, '17q21.31:', fontsize=8, fontweight='bold', va='center', ha='right')
key_x = [156, 269, 375, 502]
for xk, lab, c, e in zip(key_x, i_groups, i_cols, i_edges):
    legend_key(xk, 1046, c, e)
    ftext(xk + 8, 1046, lab, fontsize=8.5, va='center')

fig.savefig('out.png', dpi=100)
